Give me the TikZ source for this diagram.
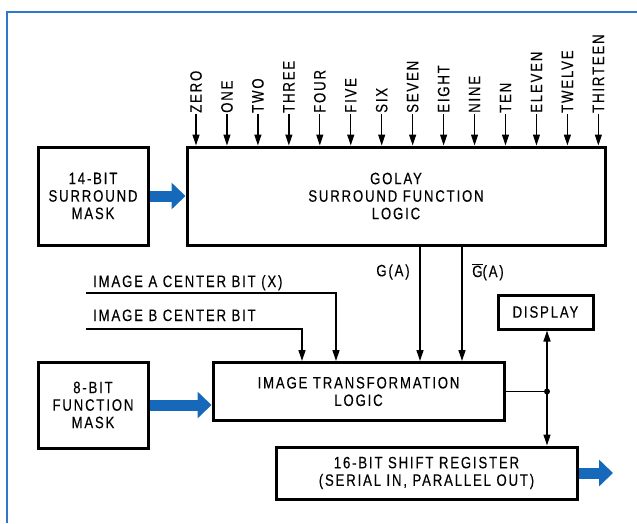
\documentclass[tikz,border=0pt]{standalone}
\usepackage{fontspec}
\setmainfont{Liberation Sans}[FakeStretch=0.8, LetterSpace=11, FakeBold=0.2]
\usetikzlibrary{arrows.meta,calc}
\definecolor{diaBlue}{RGB}{22,104,186}
\definecolor{frameBlue}{RGB}{45,120,205}
\begin{document}
\begin{tikzpicture}[x=1pt,y=-1pt,
  font=\fontsize{16.5}{17.5}\selectfont,
  box/.style={draw, line width=3pt, align=center, inner sep=0pt},
  conn/.style={line width=1.3pt, -{Triangle[length=11pt,width=7pt]}},
  plain/.style={line width=1.3pt},
  fat/.style={draw=diaBlue, line width=11pt, -{Triangle[length=14pt,width=26pt]}},
  toplab/.style={rotate=90, anchor=west, inner sep=1pt},
  lab/.style={inner sep=0pt}]
\useasboundingbox (0,0) rectangle (637,523);
% frame
\draw[frameBlue, line width=2.5pt] (7,523) -- (7,12) -- (637,12);
% boxes
\node[box, minimum width=110pt, minimum height=98pt] (smask) at (93,196) {14-BIT\\SURROUND\\MASK};
\node[box, minimum width=418pt, minimum height=98pt] (golay) at (396,196) {GOLAY\\SURROUND FUNCTION\\LOGIC};
\node[box, minimum width=110pt, minimum height=86pt] (fmask) at (93,405) {8-BIT\\FUNCTION\\MASK};
\node[box, minimum width=291pt, minimum height=58pt] (trans) at (358.5,391.5) {IMAGE TRANSFORMATION\\LOGIC};
\node[box, minimum width=95pt, minimum height=34pt] (disp) at (545.5,312) {DISPLAY};
\node[box, minimum width=301pt, minimum height=52pt] (shift) at (426.5,473) {16-BIT SHIFT REGISTER\\(SERIAL IN, PARALLEL OUT)};
% fat blue arrows
\draw[fat] (smask.east) -- (golay.west);
\draw[fat] (fmask.east) -- (trans.west |- fmask.east);
\coordinate (out) at (613,473);
\draw[fat] (shift.east) -- (out);
% top inputs
\foreach \n [count=\i from 0] in {ZERO,ONE,TWO,THREE,FOUR,FIVE,SIX,SEVEN,EIGHT,NINE,TEN,ELEVEN,TWELVE,THIRTEEN} {
  \node[toplab] (lab\i) at ({196+30.95*\i},114) {\n};
  \draw[conn] (lab\i.west) -- (lab\i.west |- golay.north);
}
% G(A) lines
\coordinate (gA) at (420,0);
\coordinate (gB) at (462,0);
\draw[conn] (gA |- golay.south) -- (gA |- trans.north);
\draw[conn] (gB |- golay.south) -- (gB |- trans.north);
\node[lab] (galab) at (393,272) {G(A)};
\node[lab] (gblab) at (488,272) {$\overline{\mbox{G}}$(A)};
% image center bits
\node[lab, anchor=base west] (ialab) at (93,287) {IMAGE A CENTER BIT (X)};
\node[lab, anchor=base west] (iblab) at (93,321) {IMAGE B CENTER BIT};
\coordinate (ia) at (86,293);
\coordinate (ib) at (86,329);
\coordinate (ta) at (336,0);
\coordinate (tb) at (302,0);
\draw[conn] (ia) -| (ta |- trans.north);
\draw[conn] (ib) -| (tb |- trans.north);
% output junction
\coordinate (jn) at (547,391.5);
\draw[plain] (trans.east) -- (jn);
\draw[conn] (jn) -- (jn |- disp.south);
\draw[conn] (jn) -- (jn |- shift.north);
\fill (jn) circle (3pt);
\end{tikzpicture}
\end{document}
